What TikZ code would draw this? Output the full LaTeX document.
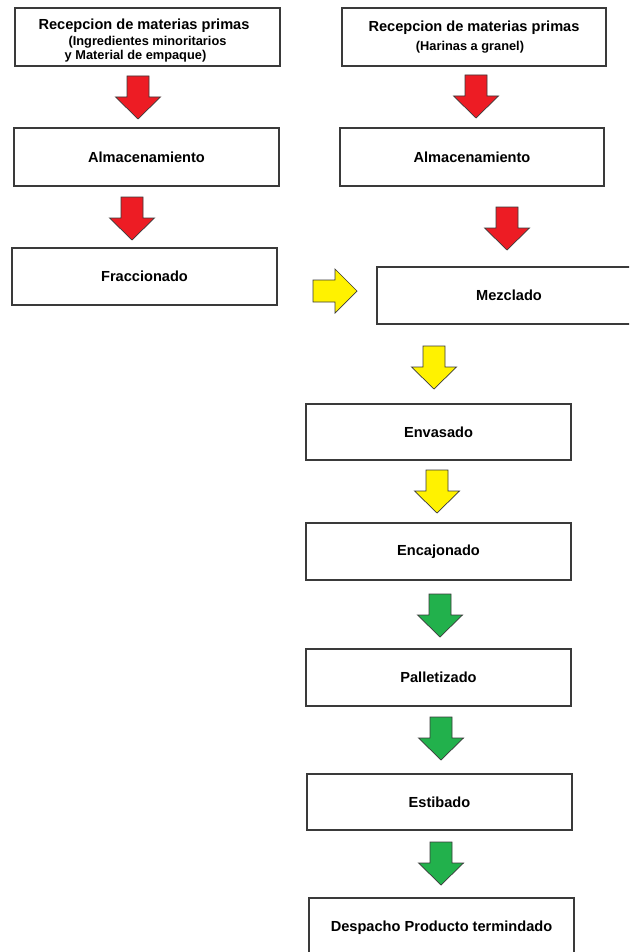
\documentclass[tikz,border=0pt]{standalone}
\usepackage{fontspec}
\setmainfont{Liberation Sans}
\usepackage{tikz}
\usetikzlibrary{positioning,calc}

\definecolor{rojo}{HTML}{ED1C24}
\definecolor{amarillo}{HTML}{FFF200}
\definecolor{verde}{HTML}{22B14C}
\definecolor{borde}{HTML}{3A3A3A}

\newcommand{\chica}{\fontsize{12.8}{14}\selectfont}
% flecha gruesa hacia abajo, punta en (#2,#3)
\newcommand{\flechaabajo}[3]{%
  \draw[flecha, fill=#1] (#2,#3) -- ++(-22.5,-22) -- ++(11.5,0) -- ++(0,-21)
    -- ++(22,0) -- ++(0,21) -- ++(11.5,0) -- cycle;}
% flecha gruesa hacia la derecha, punta en (#2,#3)
\newcommand{\flechaderecha}[3]{%
  \draw[flecha, fill=#1] (#2,#3) -- ++(-22,-22) -- ++(0,11) -- ++(-22,0)
    -- ++(0,22) -- ++(22,0) -- ++(0,11) -- cycle;}

\begin{document}
\begin{tikzpicture}[x=1pt, y=-1pt,
    caja/.style={draw=borde, line width=1.2pt, fill=white, minimum width=265pt,
      minimum height=57pt, align=center, font=\fontsize{14.6}{17}\selectfont\bfseries},
    flecha/.style={draw=borde, line width=0.7pt, line join=miter}]
    \clip (0,0) rectangle (629,952);
    \fill[white] (0,0) rectangle (629,952);

    % Recepcion
    \node[caja, minimum height=58pt, inner ysep=0pt] (recA) at (147.5,37)
      {\rule{0pt}{18pt}Recepcion de materias primas\hspace*{7pt}\\[-1pt]
      \chica (Ingredientes minoritarios\hspace*{12pt}\\[-3pt]
      \chica y Material de empaque)\hspace*{24pt}};
    \node[caja, minimum width=264pt, minimum height=58pt] (recB) at (474,37)
      {Recepcion de materias primas\\[2pt]
      \chica (Harinas a granel)\hspace*{8pt}};
    % Almacenamiento
    \node[caja, minimum height=58pt] (almA) at (146.5,157) {Almacenamiento};
    \node[caja, minimum width=264pt, minimum height=58pt] (almB) at (472,157) {Almacenamiento};
    % Linea de proceso
    \node[caja] (frac) at (144.5,276.5) {Fraccionado};
    \node[caja, minimum width=264pt] (mezc) at (509,295.5) {Mezclado};
    \node[caja, minimum height=56pt] (envas) at (438.5,432) {Envasado};
    \node[caja] (encaj) at (438.5,551.5) {Encajonado};
    \node[caja] (pallet) at (438.5,677.5) {Palletizado};
    \node[caja, minimum height=56pt] (estib) at (439.5,802) {Estibado};
    \node[caja, minimum height=60pt] (desp) at (441.5,928) {Despacho Producto termindado};

    % Flechas
    \flechaabajo{rojo}{138}{119}
    \flechaabajo{rojo}{476}{118}
    \flechaabajo{rojo}{132}{240}
    \flechaabajo{rojo}{507}{250}
    \flechaderecha{amarillo}{357}{291}
    \flechaabajo{amarillo}{434}{389}
    \flechaabajo{amarillo}{437}{513}
    \flechaabajo{verde}{440}{637}
    \flechaabajo{verde}{441}{760}
    \flechaabajo{verde}{441}{885}
  \end{tikzpicture}
\end{document}
